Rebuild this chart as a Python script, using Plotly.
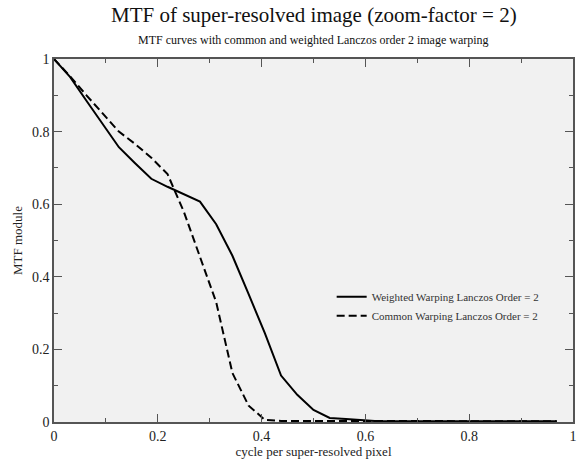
import plotly.graph_objects as go

freq = [k / 32 for k in range(32)]
weighted = [1.0, 0.95, 0.885, 0.82, 0.757, 0.713, 0.670, 0.648, 0.627, 0.607,
            0.545, 0.458, 0.352, 0.245, 0.128, 0.075, 0.033, 0.011, 0.008, 0.004,
            0.002, 0.002, 0.002, 0.002, 0.002, 0.002, 0.002, 0.002, 0.002, 0.002,
            0.002, 0.002]
common = [1.0, 0.952, 0.90, 0.85, 0.80, 0.766, 0.728, 0.683, 0.58, 0.455,
          0.33, 0.135, 0.045, 0.006, 0.003, 0.003, 0.003, 0.003, 0.003, 0.003,
          0.002, 0.002, 0.002, 0.002, 0.002, 0.002, 0.002, 0.002, 0.002, 0.002,
          0.002, 0.002]

title_text = "MTF of super-resolved image (zoom-factor = 2)"
subtitle_text = "MTF curves with common and weighted Lanczos order 2 image warping"
x_label = "cycle per super-resolved pixel"
y_label = "MTF module"

FONT = "Liberation Serif"

fig = go.Figure()
fig.add_trace(go.Scatter(x=freq, y=weighted, mode="lines",
                         name="Weighted Warping Lanczos Order = 2",
                         line=dict(color="black", width=2)))
fig.add_trace(go.Scatter(x=freq, y=common, mode="lines",
                         name="Common Warping Lanczos Order = 2",
                         line=dict(color="black", width=2, dash="8px,4px")))

axis_common = dict(
    showgrid=False, zeroline=False, showline=True, linecolor="#555555", linewidth=1.5,
    mirror="ticks", ticks="inside", ticklen=8, tickcolor="#555555", tickwidth=1,
    tickfont=dict(family=FONT, size=14, color="#222222"),
    minor=dict(ticks="inside", ticklen=4, tickcolor="#555555", dtick=0.1),
    automargin=False,
)

fig.update_layout(
    width=584, height=460,
    margin=dict(l=54, r=11, t=59, b=38),
    paper_bgcolor="white", plot_bgcolor="#f1f1f1",
    font=dict(family=FONT, color="#222222"),
    showlegend=True,
    legend=dict(x=0.535, y=0.385, xanchor="left", yanchor="top",
                bgcolor="rgba(0,0,0,0)", font=dict(family=FONT, size=11, color="#333333"),
                tracegroupgap=4),
    xaxis=dict(range=[0, 1], dtick=0.2, tick0=0,
               title=dict(text=x_label, font=dict(family=FONT, size=13), standoff=0),
               **axis_common),
    yaxis=dict(range=[0, 1], dtick=0.2, tick0=0,
               title=dict(text=y_label, font=dict(family=FONT, size=13), standoff=6),
               **axis_common),
    annotations=[
        dict(text=title_text, x=0.5, y=1, xref="paper", yref="paper", xanchor="center",
             yanchor="bottom", yshift=30, showarrow=False,
             font=dict(family=FONT, size=21, color="#111111")),
        dict(text=subtitle_text, x=0.5, y=1, xref="paper", yref="paper", xanchor="center",
             yanchor="bottom", yshift=10, showarrow=False,
             font=dict(family=FONT, size=12, color="#111111")),
    ],
)

fig.write_html("out.html", config={"displayModeBar": False},
               post_script="document.body.style.margin='0';document.body.style.overflow='hidden';")
